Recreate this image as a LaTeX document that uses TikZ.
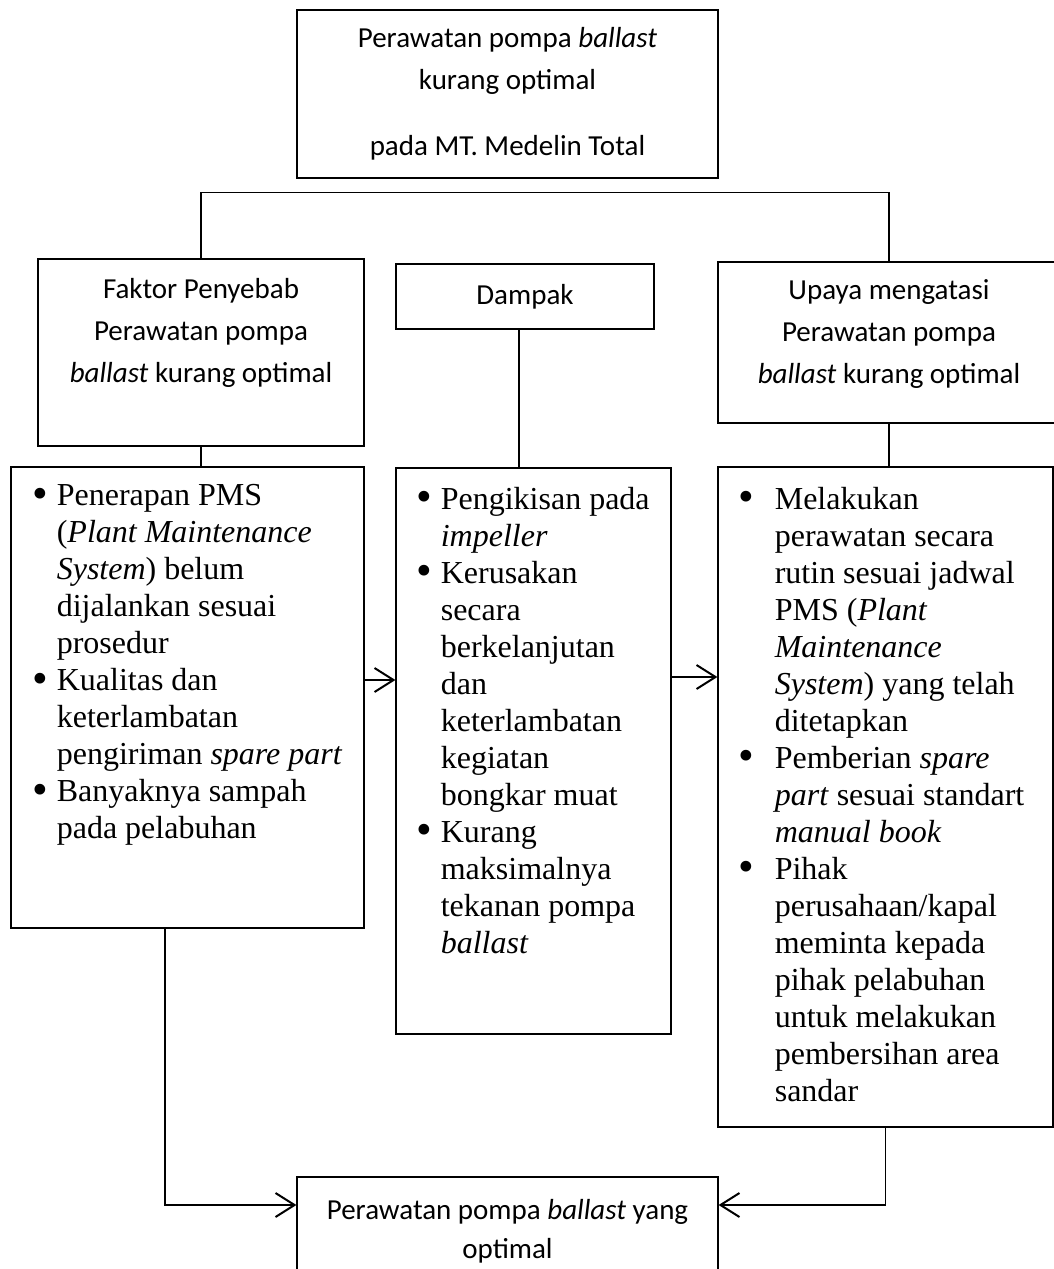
\documentclass[tikz,border=0pt]{standalone}
\usepackage{fontspec}
\setmainfont{Liberation Serif}
\newfontfamily\hdrfont{Carlito}
\usetikzlibrary{arrows.meta}

\newcommand{\bl}[1]{\makebox[#1][l]{\raisebox{-0.09em}{\scalebox{1.4}{\textbullet}}}}
\newcommand{\ind}[1]{\hspace*{#1}}

\begin{document}
\begin{tikzpicture}[x=0.5pt,y=-0.5pt,
  box/.style={draw,line width=0.6pt,inner sep=0pt},
  hdr/.style={font=\hdrfont\fontsize{14.5}{21}\selectfont,align=center,inner sep=0pt},
  lst/.style={font=\fontsize{16}{18.5}\selectfont,align=left,anchor=north west,inner sep=0pt},
  ln/.style={line width=0.6pt},
  arr/.style={-{Straight Barb[length=9.5pt,width=12pt,line width=1pt]},line width=0.7pt}]

\useasboundingbox (0,0) rectangle (1054,1269);

\node [box,hdr,minimum width=210.5pt,minimum height=84pt] (judul) at (507.5,94)
  {Perawatan pompa \textit{ballast}\\ kurang optimal\\[12pt] pada MT. Medelin Total};

\begin{scope}
\node [box,minimum width=163pt,minimum height=93.5pt] (faktor) at (201,352.5) {};
\node [hdr] (faktor-t) at ([yshift=10pt]faktor.center)
  {Faktor Penyebab\\ Perawatan pompa\\ \textit{ballast} kurang optimal};
\node [box,hdr,minimum width=129pt,minimum height=32.5pt] (dampak) at (525,296.5) {Dampak};
\node [box,minimum width=171pt,minimum height=80.5pt] (upaya) at (889,342.5) {};
\node [hdr] (upaya-t) at ([yshift=4.25pt]upaya.center)
  {Upaya mengatasi\\ Perawatan pompa\\ \textit{ballast} kurang optimal};
\end{scope}

\begin{scope}
\node [box,minimum width=176.5pt,minimum height=230.5pt] (faktor-list) at (187.5,697.5) {};
\node [lst] (faktor-isi) at ([xshift=11pt,yshift=-9pt]faktor-list.north west)
  {\bl{12pt}Penerapan PMS\\
   \ind{12pt}(\textit{Plant Maintenance}\\
   \ind{12pt}\textit{System}) belum\\
   \ind{12pt}dijalankan sesuai\\
   \ind{12pt}prosedur\\
   \bl{12pt}Kualitas dan\\
   \ind{12pt}keterlambatan\\
   \ind{12pt}pengiriman \textit{spare part}\\
   \bl{12pt}Banyaknya sampah\\
   \ind{12pt}pada pelabuhan};

\node [box,minimum width=137.5pt,minimum height=283pt] (dampak-list) at (533.5,751) {};
\node [lst] (dampak-isi) at ([xshift=10.5pt,yshift=-9.5pt]dampak-list.north west)
  {\bl{12pt}Pengikisan pada\\
   \ind{12pt}\textit{impeller}\\
   \bl{12pt}Kerusakan\\
   \ind{12pt}secara\\
   \ind{12pt}berkelanjutan\\
   \ind{12pt}dan\\
   \ind{12pt}keterlambatan\\
   \ind{12pt}kegiatan\\
   \ind{12pt}bongkar muat\\
   \bl{12pt}Kurang\\
   \ind{12pt}maksimalnya\\
   \ind{12pt}tekanan pompa\\
   \ind{12pt}\textit{ballast}};

\node [box,minimum width=167.5pt,minimum height=330pt] (upaya-list) at (885.5,797) {};
\node [lst] (upaya-isi) at ([xshift=10.5pt,yshift=-10pt]upaya-list.north west)
  {\bl{18pt}Melakukan\\
   \ind{18pt}perawatan secara\\
   \ind{18pt}rutin sesuai jadwal\\
   \ind{18pt}PMS (\textit{Plant}\\
   \ind{18pt}\textit{Maintenance}\\
   \ind{18pt}\textit{System}) yang telah\\
   \ind{18pt}ditetapkan\\
   \bl{18pt}Pemberian \textit{spare}\\
   \ind{18pt}\textit{part} sesuai standart\\
   \ind{18pt}\textit{manual book}\\
   \bl{18pt}Pihak\\
   \ind{18pt}perusahaan/kapal\\
   \ind{18pt}meminta kepada\\
   \ind{18pt}pihak pelabuhan\\
   \ind{18pt}untuk melakukan\\
   \ind{18pt}pembersihan area\\
   \ind{18pt}sandar};
\end{scope}

\node [box,hdr,font=\hdrfont\fontsize{14.5}{19.5}\selectfont,minimum width=210.5pt,minimum height=54pt] (hasil) at (507.5,1231)
  {Perawatan pompa \textit{ballast} yang\\ optimal};

\coordinate (bar-l) at ([yshift=33pt]faktor.north);
\coordinate (bar-r) at (upaya.north |- bar-l);
\draw [line width=0.9pt] (bar-l) -- (bar-r);
\draw [ln] (bar-l) -- (faktor.north);
\draw [ln] (bar-r) -- (upaya.north);

\draw [ln] (faktor.south) -- (faktor.south |- faktor-list.north);
\draw [ln] ([xshift=-3pt]dampak.south) -- ([xshift=-3pt]dampak.south |- dampak-list.north);
\draw [ln] (upaya.south) -- (upaya.south |- upaya-list.north);

\draw [arr] ([yshift=8.75pt]faktor-list.east) -- ([yshift=8.75pt]faktor-list.east -| dampak-list.west);
\draw [arr] ([yshift=37pt]dampak-list.east) -- ([yshift=37pt]dampak-list.east -| upaya-list.west);

\draw [arr] ([xshift=-11.25pt]faktor-list.south) |- ([yshift=13pt]hasil.west);
\draw [arr] (upaya-list.south) |- ([yshift=13pt]hasil.east);

\end{tikzpicture}
\end{document}
